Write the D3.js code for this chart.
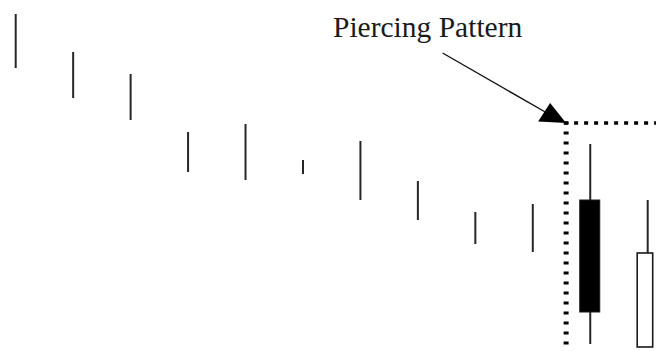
<!DOCTYPE html>
<html><head><meta charset="utf-8">
<script src="https://cdn.jsdelivr.net/npm/d3@7"></script>
<style>html,body{margin:0;padding:0;background:#fff;overflow:hidden}</style>
</head><body><svg id="c" width="656" height="351"></svg>
<script>
// Sessions (index) and prices (arbitrary units, no axis in the original)
const sessions = [0,1,2,3,4,5,6,7,8,9,10,11];
const highs  = [337,299,277,219,227,191,210,170,139,147,207,151];
const lows   = [283,253,231,179,171,177,151,131,107, 99,  7,  4];
const opens  = [null,null,null,null,null,null,null,null,null,null,151,  4];
const closes = [null,null,null,null,null,null,null,null,null,null, 39, 98];
const labelText = "Piercing Pattern";
// annotation anchor (pattern box corner) in data units
const boxStart = 9.58, boxTop = 228;
const arrowFrom = [7.43, 298];

const W = 656, H = 351;
const svg = d3.select("#c");
const x = d3.scaleLinear().domain([0, 11]).range([15.7, 647.7]);
const y = d3.scaleLinear().domain([0, 351]).range([351, 0]);

const data = sessions.map((s,i)=>({s, h:highs[i], l:lows[i], o:opens[i], c:closes[i]}));

// wicks / bars
svg.selectAll("line.wick").data(data).join("line")
  .attr("class","wick")
  .attr("x1", d=>x(d.s)).attr("x2", d=>x(d.s))
  .attr("y1", d=>y(d.h)).attr("y2", d=>y(d.l))
  .attr("stroke", "#262626").attr("stroke-width", 2);

// bodies
const bodies = data.filter(d=>d.o!==null);
svg.selectAll("rect.body").data(bodies).join("rect")
  .attr("class","body")
  .attr("x", d=> d.c < d.o ? x(d.s)-10.5 : x(d.s)-10.5)
  .attr("width", d=> d.c < d.o ? 20 : 15.5)
  .attr("y", d=>y(Math.max(d.o,d.c)))
  .attr("height", d=>Math.abs(y(d.o)-y(d.c)))
  .attr("fill", d=> d.c < d.o ? "#000" : "#fff")
  .attr("stroke", "#1a1a1a").attr("stroke-width", d=> d.c < d.o ? 1 : 1.6);

// dotted pattern box
const bx = x(boxStart), by = y(boxTop);
svg.append("line")
  .attr("x1", bx).attr("x2", bx).attr("y1", by-1.5).attr("y2", H)
  .attr("stroke", "#000").attr("stroke-width", 5).attr("stroke-dasharray", "3,7");
svg.append("line")
  .attr("x1", bx-2).attr("x2", W).attr("y1", by).attr("y2", by)
  .attr("stroke", "#000").attr("stroke-width", 3.5).attr("stroke-dasharray", "4,6");

// arrow
const ax0 = x(arrowFrom[0]), ay0 = y(arrowFrom[1]);
svg.append("line")
  .attr("x1", ax0).attr("y1", ay0)
  .attr("x2", bx-20).attr("y2", by-10.5)
  .attr("stroke", "#111").attr("stroke-width", 1.4);
svg.append("path")
  .attr("d", `M${bx},${by} L${bx-16},${by-20} L${bx-28},${by-1.5} Z`)
  .attr("fill", "#000");

// label
svg.append("text")
  .attr("x", 333).attr("y", 37)
  .attr("font-family", "'Liberation Serif','DejaVu Serif',serif")
  .attr("font-size", 29.5)
  .attr("fill", "#1a1a1a")
  .text(labelText);
</script>
</body></html>
